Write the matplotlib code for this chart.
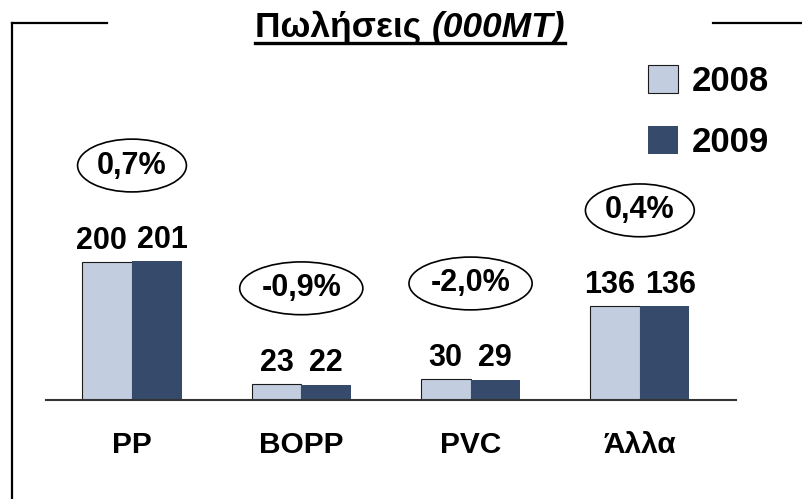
"""
Πωλήσεις (000MT) - grouped bars 2008 vs 2009 with change bubbles.
"""
import matplotlib
matplotlib.use("Agg")
import matplotlib.pyplot as plt
import numpy as np
from matplotlib.lines import Line2D

plt.rcParams["font.family"] = ["Liberation Sans", "DejaVu Sans"]
plt.rcParams["font.weight"] = "bold"

# data
categories = ["PP", "BOPP", "PVC", "Άλλα"]
sales_2008 = [200, 23, 30, 136]
sales_2009 = [201, 22, 29, 136]
changes = ["0,7%", "-0,9%", "-2,0%", "0,4%"]
series_labels = ["2008", "2009"]

LIGHT = "#c2cde0"
DARK = "#364b6c"
FS = 22

fig = plt.figure(figsize=(8.03, 4.99), dpi=100)
W, H = 803, 499
ax = fig.add_axes([46 / W, 99 / H, 690 / W, 338 / H])

x = np.arange(len(categories))
bw = 0.293
b1 = ax.bar(x - bw / 2, sales_2008, bw, color=LIGHT, edgecolor="#1a1a1a", linewidth=0.8,
            label=series_labels[0])
b2 = ax.bar(x + bw / 2, sales_2009, bw, color=DARK, edgecolor="none",
            label=series_labels[1])

ax.set_xlim(-0.508, 3.568)
ax.set_ylim(0, 490)
for side in ("top", "left", "right"):
    ax.spines[side].set_visible(False)
ax.spines["bottom"].set_color("#333333")
ax.spines["bottom"].set_linewidth(1.5)
ax.set_yticks([])
ax.set_xticks(x)
ax.set_xticklabels(categories, fontsize=21.5, fontweight="bold")
ax.tick_params(axis="x", length=0, pad=22)

# value labels over each bar
labels = []
for bars in (b1, b2):
    row = []
    for rect in bars:
        v = rect.get_height()
        row.append(ax.annotate(f"{v:.0f}", (rect.get_x() + rect.get_width() / 2, v),
                               xytext=(0, 15.5), textcoords="offset points",
                               ha="center", va="center", fontsize=FS, fontweight="bold"))
    labels.append(row)

# push apart neighbouring labels that would touch
r = fig.canvas.get_renderer()
bar_px = ax.transData.transform((bw, 0))[0] - ax.transData.transform((0, 0))[0]
for left, right in zip(labels[0], labels[1]):
    wl = left.get_window_extent(r).width
    wr = right.get_window_extent(r).width
    gap = bar_px - (wl + wr) / 2
    if gap < 10:
        shift = (10 - gap) / 2 * 72 / fig.dpi
        left.xyann = (-shift, 15.5)
        right.xyann = (shift, 15.5)

# change bubbles
for xi, a, b, txt in zip(x, sales_2008, sales_2009, changes):
    ax.annotate(txt, (xi, max(a, b)), xytext=(0, 69), textcoords="offset points",
                ha="center", va="center", fontsize=FS, fontweight="bold",
                bbox=dict(boxstyle="ellipse,pad=0.12", fc="white", ec="black", lw=1.2))

leg = fig.legend(handles=[b1, b2], loc="upper left", bbox_to_anchor=(648 / W, 1 - 65 / H),
                 frameon=False, handlelength=0.86, handleheight=0.86,
                 handletextpad=0.4, labelspacing=0.8, borderpad=0, borderaxespad=0,
                 prop={"weight": "bold", "size": 25})

# frame lines
ly = 1 - 22.7 / H
fig.add_artist(Line2D([12 / W, 107 / W], [ly, ly], color="black", lw=1.6))
fig.add_artist(Line2D([12 / W, 12 / W], [ly, 0], color="black", lw=1.6))
fig.add_artist(Line2D([713 / W, 1.0], [ly, ly], color="black", lw=1.6))

# title with italic part, underlined
t1 = fig.text(0, 1 - 37 / H, "Πωλήσεις ", fontsize=25.5, fontweight="bold", va="baseline")
t2 = fig.text(0, 1 - 37 / H, "(000MT)", fontsize=25.5, fontweight="bold",
              style="italic", va="baseline")
w1 = t1.get_window_extent(r).width / W
w2 = t2.get_window_extent(r).width / W
x0 = 410 / W - (w1 + w2) / 2
t1.set_x(x0)
t2.set_x(x0 + w1)
uy = 1 - 42.5 / H
fig.add_artist(Line2D([x0, x0 + w1 + w2], [uy, uy], color="black", lw=2.4))

fig.savefig("out.png", dpi=100)
